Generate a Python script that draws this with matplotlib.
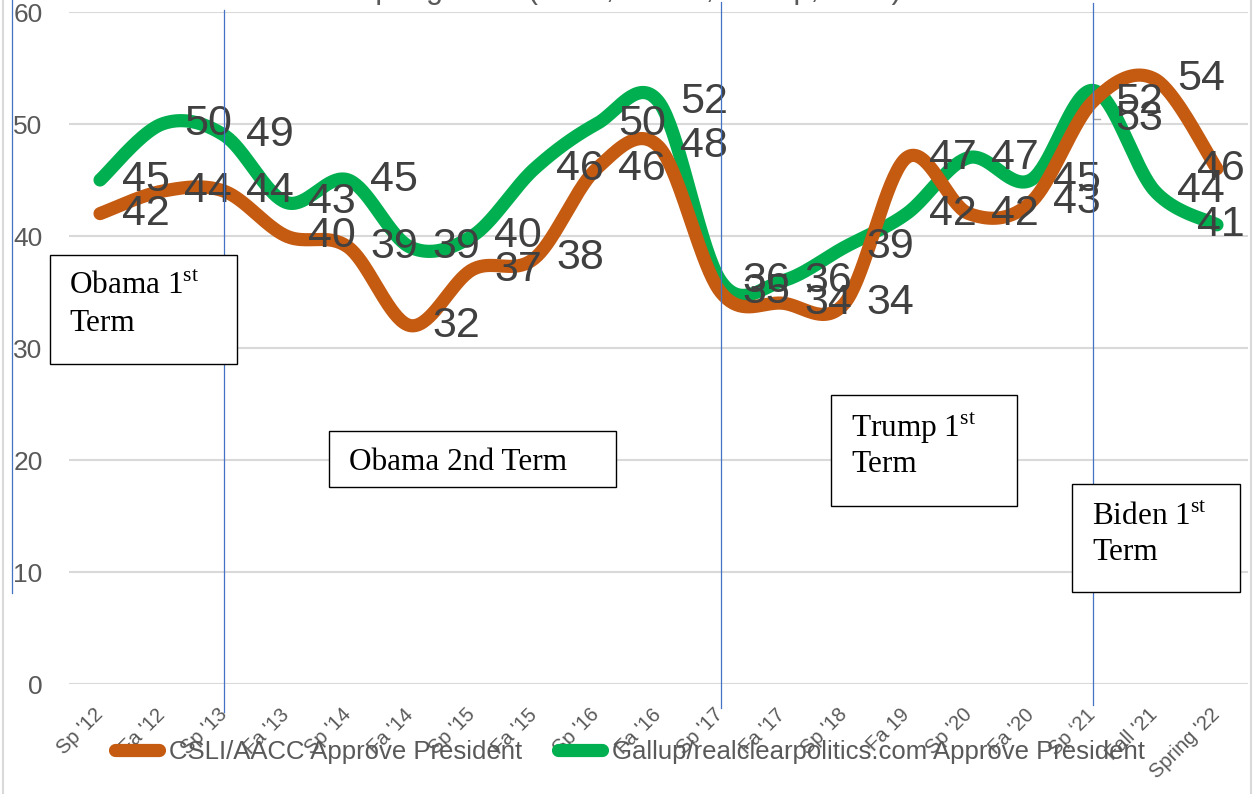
import numpy as np
import matplotlib
matplotlib.use("Agg")
import matplotlib.pyplot as plt
from matplotlib.lines import Line2D
from matplotlib.patches import Rectangle
from matplotlib.transforms import blended_transform_factory

# ---------------- data ----------------
categories = ["Sp '12", "Fa '12", "Sp '13", "Fa '13", "Sp '14", "Fa '14", "Sp '15",
              "Fa '15", "Sp '16", "Fa '16", "Sp '17", "Fa '17", "Sp '18", "Fa 19",
              "Sp '20", "Fa '20", "Sp \u201821", "Fall '21", "Spring '22"]
csli = [42, 44, 44, 40, 39, 32, 37, 38, 46, 48, 35, 34, 34, 47, 42, 43, 52, 54, 46]
gallup = [45, 50, 49, 43, 45, 39, 40, 46, 50, 52, 36, 36, 39, 42, 47, 45, 53, 44, 41]
series_names = ["CSLI/AACC Approve President",
                "Gallup/realclearpolitics.com Approve President"]
y_ticks = [0, 10, 20, 30, 40, 50, 60]
term_starts = ["Sp '13", "Sp '17", "Sp \u201821"]
title = "Spring 2022 (CSLI, AACC, Gallup, RCP)"

ORANGE = "#C55A11"
GREEN = "#00B050"
GRAY_TXT = "#595959"
LABEL_TXT = "#404040"
BLUE = "#4472C4"

plt.rcParams["font.family"] = ["Liberation Sans", "DejaVu Sans"]
plt.rcParams["mathtext.fontset"] = "custom"
plt.rcParams["mathtext.rm"] = "Liberation Serif"

W, H = 1257, 794
fig = plt.figure(figsize=(W / 100, H / 100), dpi=100)


def fx(px):
    return px / W


def fy(py):
    return 1 - py / H


ax = fig.add_axes([fx(69), fy(684), fx(1248) - fx(69), fy(12) - fy(684)])
ax.set_xlim(-0.5, len(categories) - 0.5)
ax.set_ylim(0, 60)


def smooth(xs, ys, n=40):
    P = np.column_stack([xs, ys]).astype(float)
    out = []
    for i in range(len(P) - 1):
        p0 = P[i - 1] if i > 0 else P[i]
        p1, p2 = P[i], P[i + 1]
        p3 = P[i + 2] if i + 2 < len(P) else P[i + 1]
        c1 = p1 + (p2 - p0) / 6
        c2 = p2 - (p3 - p1) / 6
        t = np.linspace(0, 1, n)[:, None]
        seg = (1 - t) ** 3 * p1 + 3 * (1 - t) ** 2 * t * c1 + 3 * (1 - t) * t ** 2 * c2 + t ** 3 * p2
        out.append(seg if i == 0 else seg[1:])
    return np.vstack(out)


xs = np.arange(len(categories))
for vals, col, z in [(gallup, GREEN, 3), (csli, ORANGE, 4)]:
    s = smooth(xs, vals)
    ax.plot(s[:, 0], s[:, 1], color=col, lw=9.5, solid_capstyle="round",
            solid_joinstyle="round", zorder=z)

# data labels
last = len(categories) - 1
for vals, name in [(csli, "c"), (gallup, "g")]:
    for i, v in enumerate(vals):
        dx = 22 if i != last else -20
        dy = 0
        if name == "g" and categories[i] in term_starts[-1:]:
            dy = -29
        ax.annotate(str(v), (i, v), xytext=(dx, dy), textcoords="offset pixels",
                    ha="left", va="center", fontsize=31, color=LABEL_TXT, zorder=8)
        if dy != 0:
            yl = v + dy / 11.2
            ax.plot([i, i, i + 0.12], [v - 0.2, yl, yl], color="#A6A6A6", lw=1, zorder=7)

# axes styling
ax.set_xticks(xs)
ax.set_xticklabels(categories, rotation=45, ha="right", va="center",
                   rotation_mode="anchor", fontsize=14.5, color=GRAY_TXT)
ax.set_yticks(y_ticks)
ax.set_yticklabels([str(t) for t in y_ticks], fontsize=19, color=GRAY_TXT)
ax.tick_params(axis="x", length=0, pad=20)
ax.tick_params(axis="y", length=0, pad=19)
ax.grid(axis="y", color="#D9D9D9", lw=1.5)
ax.set_axisbelow(True)
for sp in ax.spines.values():
    sp.set_visible(False)

# vertical term lines
btr = blended_transform_factory(ax.transData, fig.transFigure)
line_spans = [(10, 712), (2, 708), (3, 705)]
for cat, (t, b) in zip(term_starts, line_spans):
    i = categories.index(cat)
    ln = Line2D([i, i], [fy(t), fy(b)], transform=btr, color=BLUE, lw=0.9,
                zorder=20, clip_on=False)
    ax.add_artist(ln)
fig.add_artist(Line2D([fx(12), fx(12)], [fy(0), fy(593)], color=BLUE, lw=0.9, zorder=20))

# chart border
for xb in (3, 1251):
    fig.add_artist(Line2D([fx(xb), fx(xb)], [0, 1], color="#D9D9D9", lw=1.5))

# term text boxes
boxes = [
    ((50, 255, 237, 364), [("Obama 1$^{\\mathrm{st}}$", 294), ("Term", 331)], 69),
    ((329, 431, 616, 487), [("Obama 2nd Term", 470)], 349),
    ((831, 395, 1017, 506), [("Trump 1$^{\\mathrm{st}}$", 437), ("Term", 472)], 851),
    ((1072, 484, 1240, 592), [("Biden 1$^{\\mathrm{st}}$", 525), ("Term", 560)], 1092),
]
for (x0, y0, x1, y1), lines, tx in boxes:
    r = Rectangle((fx(x0), fy(y1)), fx(x1) - fx(x0), fy(y0) - fy(y1),
                  transform=fig.transFigure, fc="white", ec="black", lw=1.0, zorder=6)
    fig.add_artist(r)
    for txt, base in lines:
        fig.text(fx(tx), fy(base), txt, family="Liberation Serif", fontsize=22.5,
                 color="black", ha="left", va="baseline", zorder=7)

# cut-off title
fig.text(fx(628), fy(-2), title, ha="center", va="baseline", fontsize=22, color=GRAY_TXT)

# legend
handles = [Line2D([], [], color=ORANGE, lw=9.5, solid_capstyle="round"),
           Line2D([], [], color=GREEN, lw=9.5, solid_capstyle="round")]
fig.legend(handles, series_names, loc="center", bbox_to_anchor=(fx(630), fy(752)),
           ncol=2, frameon=False, fontsize=18.5, handlelength=1.7, handletextpad=0.4,
           columnspacing=1.4, labelcolor=GRAY_TXT, borderpad=0, borderaxespad=0)

fig.savefig("out.png", dpi=100)
